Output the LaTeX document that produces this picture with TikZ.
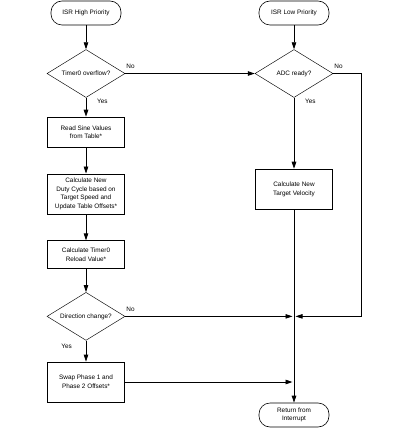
\documentclass[tikz,border=0pt]{standalone}
\usepackage{fontspec}
\setmainfont{Liberation Sans}
\usetikzlibrary{arrows.meta,positioning,shapes.geometric}

\begin{document}
\begin{tikzpicture}[x=1pt,y=1pt,
 every node/.style={font=\fontsize{6.4}{8.6}\selectfont},
 term/.style={draw,rounded corners=11pt,minimum width=70pt,minimum height=24pt,
 align=center,inner sep=1pt,line width=0.6pt},
 proc/.style={draw,minimum width=77pt,minimum height=30pt,align=center,
 inner sep=2pt,line width=0.8pt},
 decide/.style={draw,diamond,aspect=1.6,minimum width=78pt,minimum height=48pt,
 inner sep=0pt,line width=0.45pt},
 flow/.style={-{Triangle[length=7pt,width=4.5pt]},line width=0.8pt},
 lbl/.style={inner sep=1pt}]
\useasboundingbox (0,0) rectangle (409,-430);
% high priority branch
\node[term] (hi) at (86,-13) {ISR High Priority};
\node[decide,below=24pt of hi] (tmr) {Timer0 overflow?};
\node[proc,below=19pt of tmr] (sine) {Read Sine Values\\from Table*};
\node[proc,minimum height=40pt,below=26pt of sine] (duty) {Calculate New\\Duty Cycle based on\\Target Speed and\\Update Table Offsets*};
\node[proc,minimum height=28pt,below=26pt of duty] (reload) {Calculate Timer0\\Reload Value*};
\node[decide,below=23pt of reload] (dir) {Direction change?};
\node[proc,minimum height=40pt,below=21pt of dir] (swap) {Swap Phase 1 and\\Phase 2 Offsets*};
% low priority branch
\node[term] (lo) at (294,-13) {ISR Low Priority};
\node[decide,below=24pt of lo] (adc) {ADC ready?};
\node[proc,minimum height=40pt,below=71pt of adc] (vel) {Calculate New\\Target Velocity};
\node[term] (ret) at (294,-415) {Return from\\Interrupt};
\coordinate (join) at (dir.east -| ret.north);

\draw[flow] (hi) -- (tmr);
\draw[flow] (tmr) -- (sine);
\draw[flow] (sine) -- (duty);
\draw[flow] (duty) -- (reload);
\draw[flow] (reload) -- (dir);
\draw[flow] (dir) -- (swap);
\draw[flow] (tmr.east) -- (adc.west);
\draw[flow] (lo) -- (adc);
\draw[flow] (adc) -- (vel);
\draw[flow] (vel) -- (ret);
\draw[flow,shorten >=1.5pt] (dir.east) -- (join);
\draw[flow,shorten >=1.5pt] (adc.east) -- ++(28,0) |- (join);
\draw[flow,shorten >=1.5pt] (swap.east) -- (swap.east -| ret.north);

\node[lbl,anchor=south west] at ([yshift=4pt]tmr.east) {No};
\node[lbl,anchor=north west] at ([xshift=10pt]tmr.south) {Yes};
\node[lbl,anchor=south west] at ([yshift=4pt]adc.east) {No};
\node[lbl,anchor=north west] at ([xshift=10pt]adc.south) {Yes};
\node[lbl,anchor=south west] at ([yshift=4pt]dir.east) {No};
\node[lbl,anchor=north east] at ([xshift=-13pt,yshift=-2pt]dir.south) {Yes};
\end{tikzpicture}
\end{document}
